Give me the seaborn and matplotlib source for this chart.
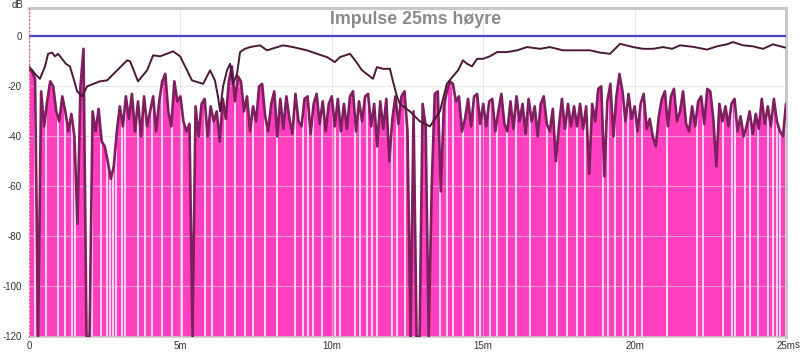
import numpy as np
import pandas as pd
import seaborn as sns
import matplotlib
matplotlib.use('Agg')
import matplotlib.pyplot as plt

# time axis of the impulse in ms (0.1 ms steps)
t_ms = np.round(np.arange(0, 251) * 0.1, 1)

# impulse level in dB, one row per ms
impulse_db = [
    -13, -14, -17, -120, -22, -36, -26, -18, -20, -30,
    -34, -24, -30, -38, -31, -40, -75, -20, -5, -120,
    -120, -30, -38, -29, -42, -44, -50, -57, -52, -38,
    -28, -36, -24, -33, -23, -38, -26, -40, -24, -36,
    -30, -24, -38, -26, -18, -15, -30, -36, -18, -26,
    -24, -34, -38, -35, -120, -28, -40, -27, -25, -40,
    -28, -34, -30, -42, -25, -33, -18, -12, -26, -16,
    -18, -30, -24, -38, -28, -34, -20, -19, -32, -38,
    -27, -22, -40, -25, -37, -24, -33, -39, -23, -34,
    -36, -25, -24, -39, -27, -23, -35, -26, -38, -27,
    -24, -36, -25, -38, -27, -37, -24, -22, -38, -26,
    -34, -24, -23, -36, -27, -44, -26, -37, -25, -50,
    -33, -24, -35, -24, -22, -38, -120, -30, -120, -120,
    -27, -36, -120, -60, -23, -22, -62, -28, -22, -18,
    -19, -26, -24, -38, -33, -25, -36, -24, -23, -35,
    -27, -36, -26, -25, -38, -30, -23, -35, -38, -26,
    -37, -24, -34, -27, -39, -25, -34, -28, -40, -27,
    -24, -35, -38, -29, -50, -36, -25, -37, -27, -36,
    -28, -36, -27, -37, -28, -55, -27, -34, -21, -20,
    -56, -26, -19, -40, -24, -15, -22, -34, -23, -33,
    -28, -38, -27, -23, -37, -33, -40, -44, -32, -25,
    -22, -36, -24, -21, -34, -30, -22, -35, -38, -28,
    -36, -26, -24, -35, -21, -22, -33, -52, -27, -34,
    -28, -36, -27, -25, -38, -32, -40, -36, -30, -39,
    -31, -37, -25, -35, -28, -36, -25, -34, -38, -40,
    -27,
]

# smoothed (dark) curve
smooth_ms = [0.0, 0.2, 0.36, 0.53, 0.63, 0.76, 0.86, 0.96, 1.09, 1.22, 1.35, 1.45, 1.59,
             1.75, 1.92, 2.34, 2.58, 2.91, 3.24, 3.34, 3.6, 3.9, 4.1, 4.33, 4.76, 4.99,
             5.22, 5.38, 5.75, 5.98, 6.14, 6.24, 6.31, 6.41, 6.54, 6.64, 6.74, 6.87, 6.97,
             7.13, 7.3, 7.63, 7.86, 8.39, 8.72, 9.18, 9.51, 9.84, 10.1, 10.27, 10.6, 10.77,
             11.0, 11.36, 11.49, 11.69, 11.92, 12.02, 12.15, 12.25, 12.58, 12.91, 13.24,
             13.57, 13.8, 14.0, 14.17, 14.33, 14.47, 14.63, 14.8, 14.99, 15.22, 15.46,
             15.79, 16.12, 16.45, 16.88, 17.2, 17.64, 18.1, 18.53, 18.86, 19.19, 19.52,
             19.95, 20.28, 20.61, 20.94, 21.24, 21.5, 21.93, 22.39, 22.72, 23.05, 23.25,
             23.58, 23.91, 24.24, 24.57, 24.97]
smooth_db = [-12, -15, -17, -12, -7, -6.5, -8, -7, -9, -11, -12, -16, -22,
             -24, -20, -18, -17.6, -13.6, -9.6, -10, -18, -13.6, -7.6, -8, -6, -8,
             -13.6, -17.6, -19, -13.6, -17.6, -24, -30, -20, -13.6, -11, -19, -15, -6.3,
             -5, -4.3, -3.6, -5.6, -3.6, -4.3, -5.6, -7, -8.3, -10.3, -8.3, -7, -9.6,
             -13.6, -17, -12.3, -13, -13, -18, -24, -27, -30, -34, -36,
             -30, -19, -16, -13.6, -9.6, -11, -12, -9, -9, -8, -6.3,
             -6.3, -5.6, -4.3, -5, -4.3, -5.6, -5.6, -5.6, -6.5, -7, -3,
             -4.3, -5, -5, -4.3, -5, -3.6, -4.2, -5.3, -4, -3.2, -2.3,
             -3.6, -4, -5, -3.2, -4.5]

# white gaps in the impulse fill
gap_ms = [0.20, 0.56, 0.96, 1.19, 1.42, 1.52, 2.08, 2.38, 2.58, 2.68, 2.77, 2.87, 3.07,
          3.17, 3.60, 3.83, 4.06, 4.39, 4.72, 5.05, 5.38, 5.81, 6.04, 6.47, 6.80, 7.13,
          7.40, 7.79, 8.19, 8.78, 9.05, 9.21, 9.38, 9.68, 10.11, 10.27, 10.77, 10.93,
          11.16, 11.33, 11.49, 11.99, 12.15, 12.42, 13.57, 13.80, 14.0, 14.33, 14.73,
          14.89, 15.22, 15.46, 15.79, 16.08, 16.55, 17.11, 17.44, 17.77, 18.10, 18.36,
          18.96, 19.12, 19.35, 19.62, 19.78, 20.01, 20.24, 21.07, 22.06, 22.26, 22.92,
          23.22, 23.32, 23.65, 23.81, 24.08, 24.41, 24.57, 24.70, 24.80]

x_ticks = [0, 5, 10, 15, 20, 25]
x_labels = ['0', '5m', '10m', '15m', '20m', '25m']
y_ticks = [0, -20, -40, -60, -80, -100, -120]

df = pd.DataFrame({'t': t_ms, 'db': impulse_db})
sm = pd.DataFrame({'t': smooth_ms, 'db': smooth_db})

sns.set_theme(style='white')
plt.rcParams['font.family'] = ['Liberation Sans', 'DejaVu Sans']

fig = plt.figure(figsize=(8, 3.53), dpi=100)
ax = fig.add_axes([29 / 800, 1 - 336.5 / 353, 757 / 800, 328.2 / 353])

ax.fill_between(df['t'], df['db'], -120, color='#ff3ec0', lw=0, zorder=1)
ax.vlines(gap_ms, -120, 0, color='white', lw=1.1, zorder=1.5)

for yt in y_ticks[1:-1]:
    ax.axhline(yt, color='#d8d8d8', lw=0.8, alpha=0.6, zorder=2)
for xt in x_ticks[1:-1]:
    ax.axvline(xt, color='#d8d8d8', lw=0.8, alpha=0.6, zorder=2)

ax.axhline(0, color='#4848c8', lw=1.6, zorder=3)
sns.lineplot(data=df, x='t', y='db', ax=ax, color='#7e1f5e', lw=1.9, zorder=4)
sns.lineplot(data=sm, x='t', y='db', ax=ax, color='#4a1838', lw=1.4, zorder=5)
ax.axvline(0, color='#ff4060', lw=1.0, ls=':', zorder=6)

ax.set_xlim(0, 25)
ax.set_ylim(-120, 11.2)
ax.set_xticks(x_ticks)
ax.set_xticklabels(x_labels)
ax.set_yticks(y_ticks)
ax.set_yticklabels([str(v) for v in y_ticks])
ax.tick_params(axis='both', length=0, labelsize=7, colors='#333333')
ax.tick_params(axis='y', pad=5)
ax.tick_params(axis='x', pad=3)
ax.set_xlabel('')
ax.set_ylabel('')

for side in ['top', 'right', 'bottom', 'left']:
    ax.spines[side].set_color('#c8c8c8')
ax.spines['top'].set_linewidth(2.2)
ax.spines['right'].set_linewidth(2.2)
ax.spines['bottom'].set_linewidth(1.2)
ax.spines['left'].set_linewidth(0.8)

ax.text(0.51, 0.965, 'Impulse 25ms høyre', transform=ax.transAxes, ha='center', va='center',
        fontsize=12.8, fontweight='bold', color='#8a8a8a', zorder=7)
fig.text(17.5 / 800, 1 - 5 / 353, 'dB', ha='center', va='center', fontsize=7, color='#333333')
fig.text(797 / 800, 1 - 345 / 353, 's', ha='center', va='center', fontsize=7, color='#333333')

plt.savefig('out.png', dpi=100)
plt.close()
